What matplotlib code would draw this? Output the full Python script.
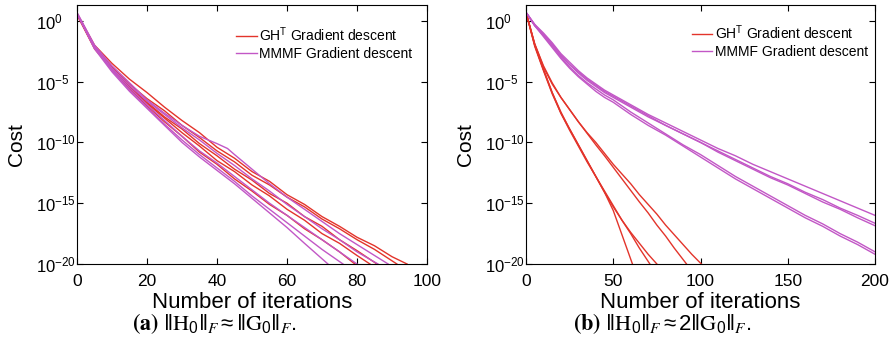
import numpy as np
import matplotlib
matplotlib.use("Agg")
import matplotlib.pyplot as plt

plt.rcParams['font.family'] = ['Liberation Sans', 'DejaVu Sans']
plt.rcParams['mathtext.fontset'] = 'custom'
plt.rcParams['mathtext.rm'] = 'Liberation Sans'
plt.rcParams['mathtext.it'] = 'Liberation Sans:italic'
plt.rcParams['mathtext.bf'] = 'Liberation Sans:bold'
plt.rcParams['mathtext.default'] = 'regular'

RED = '#e3342b'
MAG = '#c257c6'

# ---- panel (a): log10(cost) per iteration ----
a_red_x = [
    [0, 5, 10, 15, 20, 25, 30, 35, 40, 45, 50, 55, 60, 65, 70, 75, 80, 85, 90, 94.3],
    [0, 5, 10, 15, 20, 25, 30, 35, 40, 45, 50, 55, 60, 65, 70, 75, 80, 85, 91.4],
    [0, 5, 10, 15, 20, 25, 30, 35, 40, 45, 50, 55, 60, 65, 70, 75, 80, 85.7],
    [0, 5, 10, 15, 20, 25, 30, 35, 40, 45, 50, 55, 60, 65, 70, 75, 80, 83.7],
    [0, 5, 10, 15, 20, 25, 30, 35, 40, 45, 50, 55, 60, 65, 70, 75, 79.4],
]
a_red_y = [
    [0.6, -2.0, -3.5, -4.8, -5.9, -7.1, -8.2, -9.2, -10.4, -11.3, -12.4, -13.2, -14.3, -15.1, -16.1, -16.9, -17.8, -18.5, -19.4, -20],
    [0.6, -2.1, -3.8, -5.2, -6.4, -7.4, -8.6, -9.6, -10.7, -11.6, -12.7, -13.5, -14.5, -15.3, -16.3, -17.1, -18.0, -18.8, -20],
    [0.6, -2.2, -3.9, -5.4, -6.7, -7.9, -8.9, -10.1, -11.1, -12.2, -13.1, -14.2, -15.0, -16.1, -16.9, -18.0, -18.9, -20],
    [0.5, -2.2, -3.9, -5.5, -6.8, -8.0, -9.2, -10.3, -11.5, -12.4, -13.5, -14.4, -15.5, -16.4, -17.5, -18.3, -19.3, -20],
    [0.5, -2.3, -4.0, -5.6, -7.0, -8.3, -9.5, -10.8, -11.8, -13.0, -14.0, -15.1, -16.0, -17.1, -18.0, -19.0, -20],
]
a_mag_x = [
    [0, 5, 10, 15, 20, 25, 30, 35, 40, 43, 45, 50, 55, 60, 65, 70, 75, 80, 85, 88.9],
    [0, 5, 10, 15, 20, 25, 30, 35, 40, 45, 50, 55, 60, 65, 70, 75, 80, 86],
    [0, 5, 10, 15, 20, 25, 30, 35, 40, 45, 50, 55, 60, 65, 70, 75, 80],
    [0, 5, 10, 15, 20, 25, 30, 35, 40, 45, 50, 55, 60, 65, 70, 76],
    [0, 5, 10, 15, 20, 25, 30, 35, 40, 45, 50, 55, 60, 65, 71.7],
]
a_mag_y = [
    [0.7, -2.0, -3.7, -5.1, -6.5, -7.6, -8.6, -9.5, -10.1, -10.5, -11.0, -12.2, -13.4, -14.5, -15.5, -16.5, -17.5, -18.4, -19.3, -20],
    [0.6, -2.1, -3.9, -5.3, -6.6, -7.7, -8.8, -9.8, -10.9, -11.9, -13.0, -14.0, -15.1, -16.1, -17.1, -18.0, -19.0, -20],
    [0.6, -2.2, -4.0, -5.5, -6.9, -8.2, -9.5, -10.7, -11.7, -12.8, -13.9, -15.0, -16.0, -17.0, -18.0, -19.0, -20],
    [0.6, -2.2, -4.1, -5.7, -7.1, -8.5, -9.8, -11.0, -12.1, -13.2, -14.4, -15.5, -16.6, -17.7, -18.8, -20],
    [0.6, -2.3, -4.2, -5.8, -7.2, -8.6, -10.0, -11.2, -12.3, -13.4, -14.6, -15.8, -17.0, -18.3, -20],
]

# ---- panel (b) ----
b_red_x = [
    [0, 5, 10, 15, 20, 25, 30, 35, 40, 45, 50, 55, 61],
    [0, 5, 10, 15, 20, 25, 30, 35, 40, 45, 50, 55, 60, 65, 71],
    [0, 5, 10, 15, 20, 25, 30, 35, 40, 45, 50, 55, 60, 65, 70, 75],
    [0, 5, 10, 15, 20, 25, 30, 35, 40, 45, 50, 55, 60, 65, 70, 75, 80, 85, 92],
    [0, 5, 10, 15, 20, 25, 30, 35, 40, 45, 50, 55, 60, 65, 70, 75, 80, 85, 90, 95, 100.5],
]
b_red_y = [
    [0.7, -2.0, -4.0, -5.9, -7.6, -8.9, -10.2, -11.5, -12.8, -14.1, -15.6, -17.6, -20],
    [0.7, -2.1, -4.1, -6.0, -7.6, -9.0, -10.3, -11.6, -12.8, -14.0, -15.2, -16.4, -17.5, -18.7, -20],
    [0.7, -2.0, -4.0, -5.9, -7.5, -8.9, -10.2, -11.5, -12.8, -14.1, -15.3, -16.4, -17.4, -18.3, -19.2, -20],
    [0.7, -1.9, -3.7, -5.1, -6.3, -7.3, -8.3, -9.25, -10.2, -11.1, -12.05, -13.0, -13.95, -14.9, -15.8, -16.8, -17.7, -18.7, -20],
    [0.7, -1.9, -3.8, -5.2, -6.3, -7.3, -8.3, -9.2, -10.0, -10.9, -11.8, -12.6, -13.4, -14.3, -15.1, -15.9, -16.8, -17.6, -18.4, -19.2, -20],
]
b_mag_x = [0, 5, 10, 15, 20, 25, 30, 35, 40, 45, 50, 60, 70, 80, 90, 100,
           110, 120, 130, 140, 150, 160, 170, 180, 190, 200]
b_mag_y = [
    [0.7, -0.3, -1.0, -1.8, -2.7, -3.4, -4.1, -4.7, -5.2, -5.7, -6.1, -6.9, -7.7, -8.4, -9.1, -9.8, -10.5, -11.1, -11.8, -12.4, -13.0, -13.6, -14.2, -14.8, -15.4, -16.0],
    [0.7, -0.3, -1.1, -1.9, -2.8, -3.6, -4.2, -4.8, -5.3, -5.8, -6.2, -7.0, -7.8, -8.6, -9.3, -10.0, -10.7, -11.4, -12.1, -12.8, -13.4, -14.1, -14.7, -15.4, -16.0, -16.65],
    [0.7, -0.4, -1.2, -2.0, -2.9, -3.6, -4.3, -4.9, -5.4, -5.9, -6.3, -7.1, -7.9, -8.6, -9.3, -10.0, -10.8, -11.5, -12.2, -12.9, -13.5, -14.2, -14.9, -15.5, -16.2, -16.85],
    [0.7, -0.4, -1.2, -2.1, -3.0, -3.8, -4.5, -5.1, -5.6, -6.1, -6.5, -7.5, -8.4, -9.3, -10.2, -11.0, -11.9, -12.8, -13.6, -14.4, -15.2, -16.0, -16.7, -17.5, -18.2, -19.0],
    [0.7, -0.4, -1.3, -2.2, -3.1, -3.9, -4.6, -5.2, -5.8, -6.3, -6.7, -7.7, -8.6, -9.4, -10.3, -11.2, -12.1, -13.0, -13.8, -14.6, -15.4, -16.2, -16.9, -17.7, -18.4, -19.2],
]

ytick_exp = [0, -5, -10, -15, -20]
legend_labels = [r'GH$^\mathrm{T}$ Gradient descent', 'MMMF Gradient descent']
captions = [r'$\mathbf{(a)}\ \|\mathrm{H}_0\|_\mathit{F} \approx \|\mathrm{G}_0\|_\mathit{F}.$',
            r'$\mathbf{(b)}\ \|\mathrm{H}_0\|_\mathit{F} \approx 2\|\mathrm{G}_0\|_\mathit{F}.$']

W, H = 893, 354
fig = plt.figure(figsize=(W / 100, H / 100), dpi=100)
ax1 = fig.add_axes([77 / W, 90 / H, 350 / W, 259 / H])
ax2 = fig.add_axes([526 / W, 90 / H, 349 / W, 259 / H])


def draw(ax, red_x, red_y, mag_x, mag_y, xmax, xticks, leg_anchor):
    for i, (x, y) in enumerate(zip(red_x, red_y)):
        ax.semilogy(x, 10.0 ** np.array(y), color=RED, lw=1.0,
                    label=legend_labels[0] if i == 0 else None)
    for i, (x, y) in enumerate(zip(mag_x, mag_y)):
        ax.semilogy(x, 10.0 ** np.array(y), color=MAG, lw=1.0,
                    label=legend_labels[1] if i == 0 else None)
    ax.set_xlim(0, xmax)
    ax.set_ylim(1e-20, 10 ** 1.3)
    ax.set_xticks(xticks)
    ax.set_yticks([10.0 ** e for e in ytick_exp])
    ax.set_yticklabels(['$10^{%d}$' % e for e in ytick_exp])
    ax.minorticks_off()
    ax.tick_params(direction='in', top=True, right=True, length=4)
    ax.tick_params(axis='x', labelsize=12.5, pad=7)
    # pad is in points: labels start ~41 px left of the spine
    ax.tick_params(axis='y', labelsize=12, pad=29.5)
    for lab in ax.get_yticklabels():
        lab.set_horizontalalignment('left')
        lab.set_verticalalignment('center_baseline')
    ax.set_xlabel('Number of iterations', fontsize=16, labelpad=2)
    ax.set_ylabel('Cost', fontsize=15)
    ax.yaxis.set_label_coords(-0.147, 0.46)
    ax.legend(loc='upper right', bbox_to_anchor=leg_anchor, borderaxespad=0,
              frameon=False, fontsize=10, handlelength=1.5,
              handletextpad=0.15, labelspacing=0.25)


# a_mag_x is per curve; b_mag_x is shared by all five curves
draw(ax1, a_red_x, a_red_y, a_mag_x, a_mag_y, 100, [0, 20, 40, 60, 80, 100],
     (0.973, 0.944))
draw(ax2, b_red_x, b_red_y, [b_mag_x] * len(b_mag_y), b_mag_y, 200,
     [0, 50, 100, 150, 200], (0.995, 0.951))

fig.text(214 / W, 1 - 324 / H, captions[0], ha='center',
         va='center', fontsize=16, math_fontfamily='stix')
fig.text(662 / W, 1 - 324 / H, captions[1], ha='center',
         va='center', fontsize=16, math_fontfamily='stix')

fig.savefig('out.png', dpi=100)
